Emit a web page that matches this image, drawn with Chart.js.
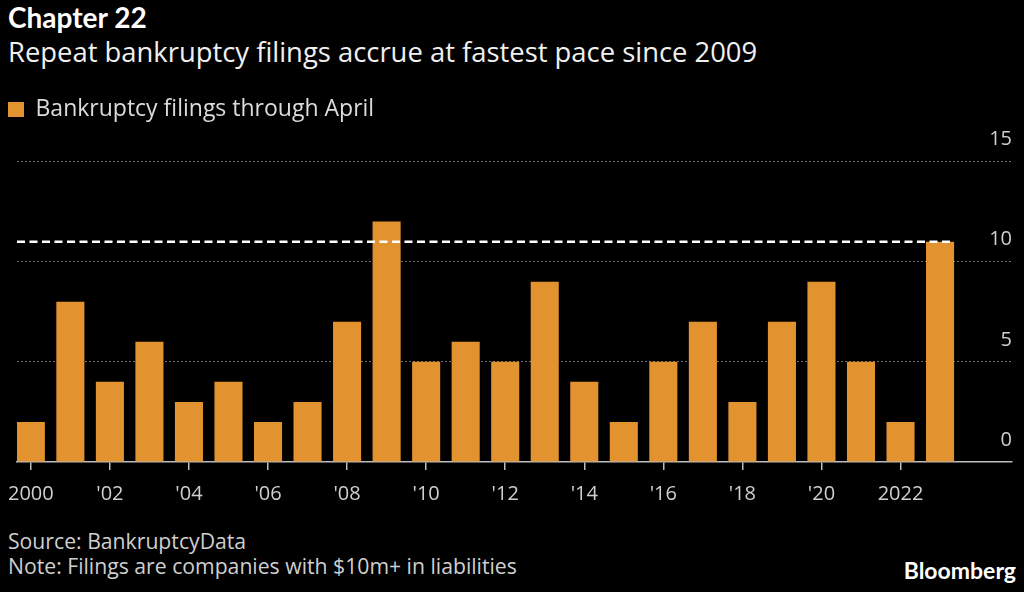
<!DOCTYPE html>
<html lang="en">
<head>
    <meta charset="UTF-8">
    <title>Chapter 22</title>
    <script src="https://cdn.jsdelivr.net/npm/chart.js"></script>
    <style>
        html, body { margin: 0; padding: 0; background: #000; }
        body { width: 1024px; height: 592px; position: relative; overflow: hidden; font-family: "Open Sans", sans-serif; }
        .txt { position: absolute; left: 8px; white-space: nowrap; }
        #title { top: 3px; font-family: Lato, sans-serif; font-size: 28px; line-height: 28px; font-weight: 700; color: #fff; }
        #subtitle { top: 38px; font-size: 27.4px; line-height: 27px; color: #f0f0f0; }
        #source { top: 530px; font-size: 21.2px; line-height: 21px; color: #cfcfcf; }
        #note { top: 555px; font-size: 21.2px; line-height: 21px; color: #cfcfcf; }
        #brand { left: auto; right: 8px; top: 559px; font-family: Lato, sans-serif; font-size: 23px; line-height: 22px; font-weight: 700; color: #fff; }
        #chartBox { position: absolute; left: 0; top: 90px; width: 1024px; height: 417px; }
    </style>
</head>
<body>
    <div class="txt" id="title">Chapter 22</div>
    <div class="txt" id="subtitle">Repeat bankruptcy filings accrue at fastest pace since 2009</div>
    <div id="chartBox">
        <canvas id="myChart" width="1024" height="417"></canvas>
    </div>
    <div class="txt" id="source">Source: BankruptcyData</div>
    <div class="txt" id="note">Note: Filings are companies with $10m+ in liabilities</div>
    <div class="txt" id="brand">Bloomberg</div>

<script>
    // data
    const years = [2000, 2001, 2002, 2003, 2004, 2005, 2006, 2007, 2008, 2009, 2010, 2011,
                   2012, 2013, 2014, 2015, 2016, 2017, 2018, 2019, 2020, 2021, 2022, 2023];
    const filings = [2, 8, 4, 6, 3, 4, 2, 3, 7, 12, 5, 6, 5, 9, 4, 2, 5, 7, 3, 7, 9, 5, 2, 11];
    const xTickYears = [2000, 2002, 2004, 2006, 2008, 2010, 2012, 2014, 2016, 2018, 2020, 2022];
    const xTickLabels = ['2000', "'02", "'04", "'06", "'08", "'10", "'12", "'14", "'16", "'18", "'20", '2022'];
    const yTicks = [0, 5, 10, 15];
    const referenceLevel = 11; // dashed line = this year's count

    const orange = '#e2932f';
    const axisGrey = '#bdbdbd';

    // adds room under the legend
    const legendGap = {
        id: 'legendGap',
        beforeInit(chart) {
            if (!chart.legend) return;
            const fit = chart.legend.fit;
            chart.legend.fit = function () {
                fit.bind(chart.legend)();
                this.height += 30.5;
            };
        }
    };

    // dashed white line across to the latest bar
    const refLine = {
        id: 'refLine',
        afterDatasetsDraw(chart) {
            const meta = chart.getDatasetMeta(0);
            const last = meta.data[meta.data.length - 1];
            const y = chart.scales.y.getPixelForValue(referenceLevel);
            const ctx = chart.ctx;
            ctx.save();
            ctx.strokeStyle = '#ffffff';
            ctx.lineWidth = 2.5;
            ctx.setLineDash([8, 4.5]);
            ctx.beginPath();
            ctx.moveTo(chart.chartArea.left, y);
            ctx.lineTo(last.x + last.width / 2, y);
            ctx.stroke();
            ctx.restore();
        }
    };

    const data = {
        datasets: [{
            label: 'Bankruptcy filings through April',
            backgroundColor: orange,
            borderWidth: 0,
            categoryPercentage: 1,
            barPercentage: 0.71,
            data: years.map((yr, i) => ({ x: yr, y: filings[i] }))
        }]
    };

    const config = {
        type: 'bar',
        data: data,
        plugins: [legendGap, refLine],
        options: {
            responsive: false,
            animation: false,
            devicePixelRatio: 1,
            layout: { padding: { left: 0, right: 12, top: 0, bottom: 0 } },
            plugins: {
                tooltip: { enabled: false },
                legend: {
                    display: true,
                    position: 'top',
                    align: 'start',
                    labels: {
                        color: '#dcdcdc',
                        font: { family: 'Open Sans', size: 23 },
                        boxWidth: 16,
                        boxHeight: 15,
                        padding: 8
                    }
                }
            },
            scales: {
                x: {
                    type: 'linear',
                    offset: false,
                    min: 1999.65,
                    max: 2024.82,
                    afterBuildTicks: (scale) => {
                        scale.ticks = xTickYears.map(v => ({ value: v }));
                    },
                    afterFit: (scale) => { scale.height = 45; },
                    ticks: {
                        autoSkip: false,
                        maxRotation: 0,
                        color: '#cfcfcf',
                        padding: 3,
                        // tall line box pushes the labels down without widening the left padding
                        font: { family: 'Open Sans', size: 20, lineHeight: 2.1 },
                        callback: (value) => {
                            const i = xTickYears.indexOf(value);
                            return i >= 0 ? xTickLabels[i] : '';
                        }
                    },
                    grid: {
                        display: true,
                        offset: false,
                        drawOnChartArea: false,
                        drawTicks: true,
                        tickLength: 8,
                        color: axisGrey,
                        lineWidth: 1.5
                    },
                    border: { display: true, color: axisGrey, width: 1.5 }
                },
                y: {
                    position: 'right',
                    min: 0,
                    max: 15,
                    afterBuildTicks: (scale) => {
                        scale.ticks = yTicks.map(v => ({ value: v }));
                    },
                    ticks: {
                        mirror: true,
                        padding: 0,
                        labelOffset: -22,
                        color: '#cfcfcf',
                        font: { family: 'Open Sans', size: 20 }
                    },
                    grid: {
                        drawTicks: false,
                        lineWidth: 1,
                        color: (ctx) => ctx.tick && ctx.tick.value === 0 ? 'rgba(0,0,0,0)' : '#707070'
                    },
                    border: { display: false, dash: [2, 2] }
                },
                gutter: {
                    type: 'linear',
                    position: 'left',
                    display: true,
                    ticks: { display: false },
                    grid: { display: false },
                    border: { display: false },
                    afterFit: (scale) => { scale.width = 17; }
                }
            }
        }
    };

    const myChart = new Chart(document.querySelector('#myChart'), config);
</script>
</body>
</html>
